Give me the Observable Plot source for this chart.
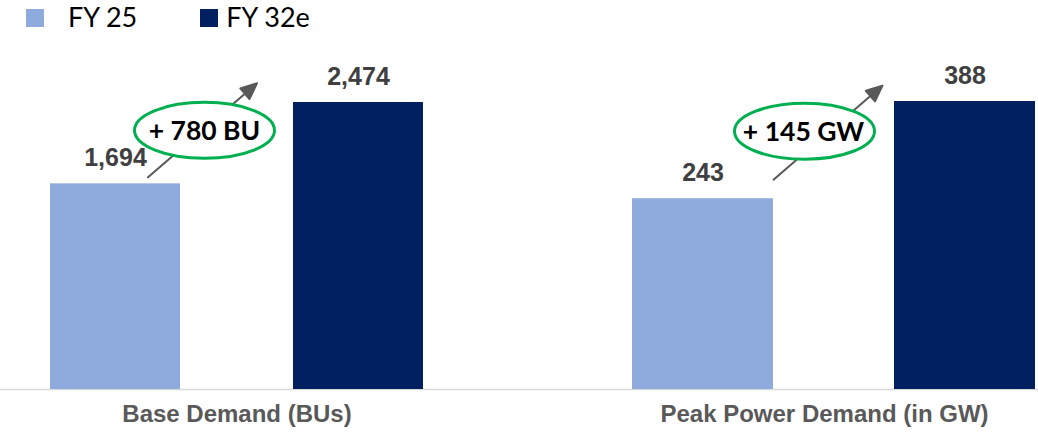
<!DOCTYPE html>
<html>
<head>
<meta charset="utf-8">
<script src="https://cdn.jsdelivr.net/npm/d3@7"></script>
<script src="https://cdn.jsdelivr.net/npm/@observablehq/plot@0.6"></script>
<style>
  html, body { margin: 0; padding: 0; background: #fff; }
  #root { position: relative; width: 1038px; height: 432px; overflow: hidden; background: #fff; }
  #legend { position: absolute; left: 0; top: 0; height: 33px; padding-left: 26px; display: flex; align-items: center;
            font-family: Lato, "Noto Sans", sans-serif; font-size: 27px; color: #000; }
  #legend .sw { width: 18px; height: 18px; display: inline-block; position: relative; top: 1px; }
  #legend .lab { line-height: 1; }
  #charts { position: absolute; left: 0; top: 40px; display: flex; }
  #charts svg { display: block; overflow: visible; }
</style>
</head>
<body>
<div id="root">
  <div id="legend"></div>
  <div id="charts"></div>
</div>
<script>
// ---- data ----
const panels = ["Base Demand (BUs)", "Peak Power Demand (in GW)"];
const units = ["BU", "GW"];
const years = ["FY 25", "FY 32e"];
const fy25 = [1694, 243];
const fy32e = [2474, 388];
const colors = ["#8FAADC", "#002060"];

// ---- legend ----
const legend = document.getElementById("legend");
const swGap = [24, 8], itemGap = [63, 0];
years.forEach((y, j) => {
  const sw = document.createElement("span");
  sw.className = "sw";
  sw.style.background = colors[j];
  sw.style.marginRight = swGap[j] + "px";
  const lab = document.createElement("span");
  lab.className = "lab";
  lab.textContent = y;
  lab.style.marginRight = itemGap[j] + "px";
  legend.append(sw, lab);
});

// ---- shapes ----
const arrowShape = {
  draw(ctx, l) {
    const h = 16, w = 7;
    ctx.moveTo(0, 0);
    ctx.lineTo(0, -l + h);
    ctx.moveTo(-w, -l + h);
    ctx.lineTo(0, -l);
    ctx.lineTo(w, -l + h);
    ctx.closePath();
  }
};
const ellipseSymbol = {
  draw(ctx, size) {
    const ry = Math.sqrt(size / Math.PI), rx = ry * 2.5, k = 0.5523;
    ctx.moveTo(rx, 0);
    ctx.bezierCurveTo(rx, ry * k, rx * k, ry, 0, ry);
    ctx.bezierCurveTo(-rx * k, ry, -rx, ry * k, -rx, 0);
    ctx.bezierCurveTo(-rx, -ry * k, -rx * k, -ry, 0, -ry);
    ctx.bezierCurveTo(rx * k, -ry, rx, -ry * k, rx, 0);
    ctx.closePath();
  }
};

const fmt = d3.format(",");
const layouts = [
  {width: 510, ml: 49, mr: 86, mt: 62, arrow: [32.5, -6.5], oval: [89, -53.5], label: [89, -52.5], labelDx: 0},
  {width: 528, ml: 121, mr: 3, mt: 61, arrow: [70.5, -19], oval: [101.5, -67.5], label: [100.5, -66], labelDx: -9}
];

function panel(i) {
  const L = layouts[i];
  const rows = years.map((year, j) => ({year, value: (j === 0 ? fy25 : fy32e)[i], color: colors[j]}));
  const base = rows[0];
  const change = `+ ${rows[1].value - rows[0].value} ${units[i]}`;
  return Plot.plot({
    width: L.width,
    height: 392,
    marginLeft: L.ml,
    marginRight: L.mr,
    marginTop: L.mt,
    marginBottom: 43,
    x: {type: "band", domain: years, paddingInner: 0.463, paddingOuter: 0, axis: null},
    y: {type: "pow", exponent: 0.88, domain: [0, d3.max(rows, d => d.value)], axis: null},
    color: {type: "identity"},
    marks: [
      Plot.ruleY([0], {stroke: "#d9d9d9", strokeWidth: 1.5, insetLeft: -L.ml, insetRight: -L.mr}),
      Plot.barY(rows, {x: "year", y: "value", fill: d => d.color}),
      Plot.text(rows, {x: "year", y: "value", text: d => fmt(d.value), dy: -26,
        fontSize: 25, fontWeight: "bold", fill: "#404040", fontFamily: "Liberation Sans, Arial, sans-serif"}),
      Plot.vector([base], {x: "year", y: "value", anchor: "start", length: 144, rotate: 49.2,
        shape: arrowShape, stroke: "#595959", fill: "#595959", strokeWidth: 2, dx: L.arrow[0], dy: L.arrow[1]}),
      Plot.dot([base], {x: "year", y: "value", r: 28, symbol: ellipseSymbol, stroke: "#00B050", strokeWidth: 3,
        fill: "white", dx: L.oval[0], dy: L.oval[1]}),
      Plot.text([base], {x: "year", y: "value", text: () => change, dx: L.label[0], dy: L.label[1],
        fontSize: 26.5, fontWeight: "bold", fill: "#000", fontFamily: "Lato, sans-serif"}),
      Plot.text([panels[i]], {frameAnchor: "bottom", lineAnchor: "middle", text: d => d, dy: 25, dx: L.labelDx,
        fontSize: 24, fontWeight: "bold", fill: "#595959", fontFamily: "Liberation Sans, Arial, sans-serif"})
    ]
  });
}

const charts = document.getElementById("charts");
charts.append(panel(0), panel(1));
</script>
</body>
</html>
